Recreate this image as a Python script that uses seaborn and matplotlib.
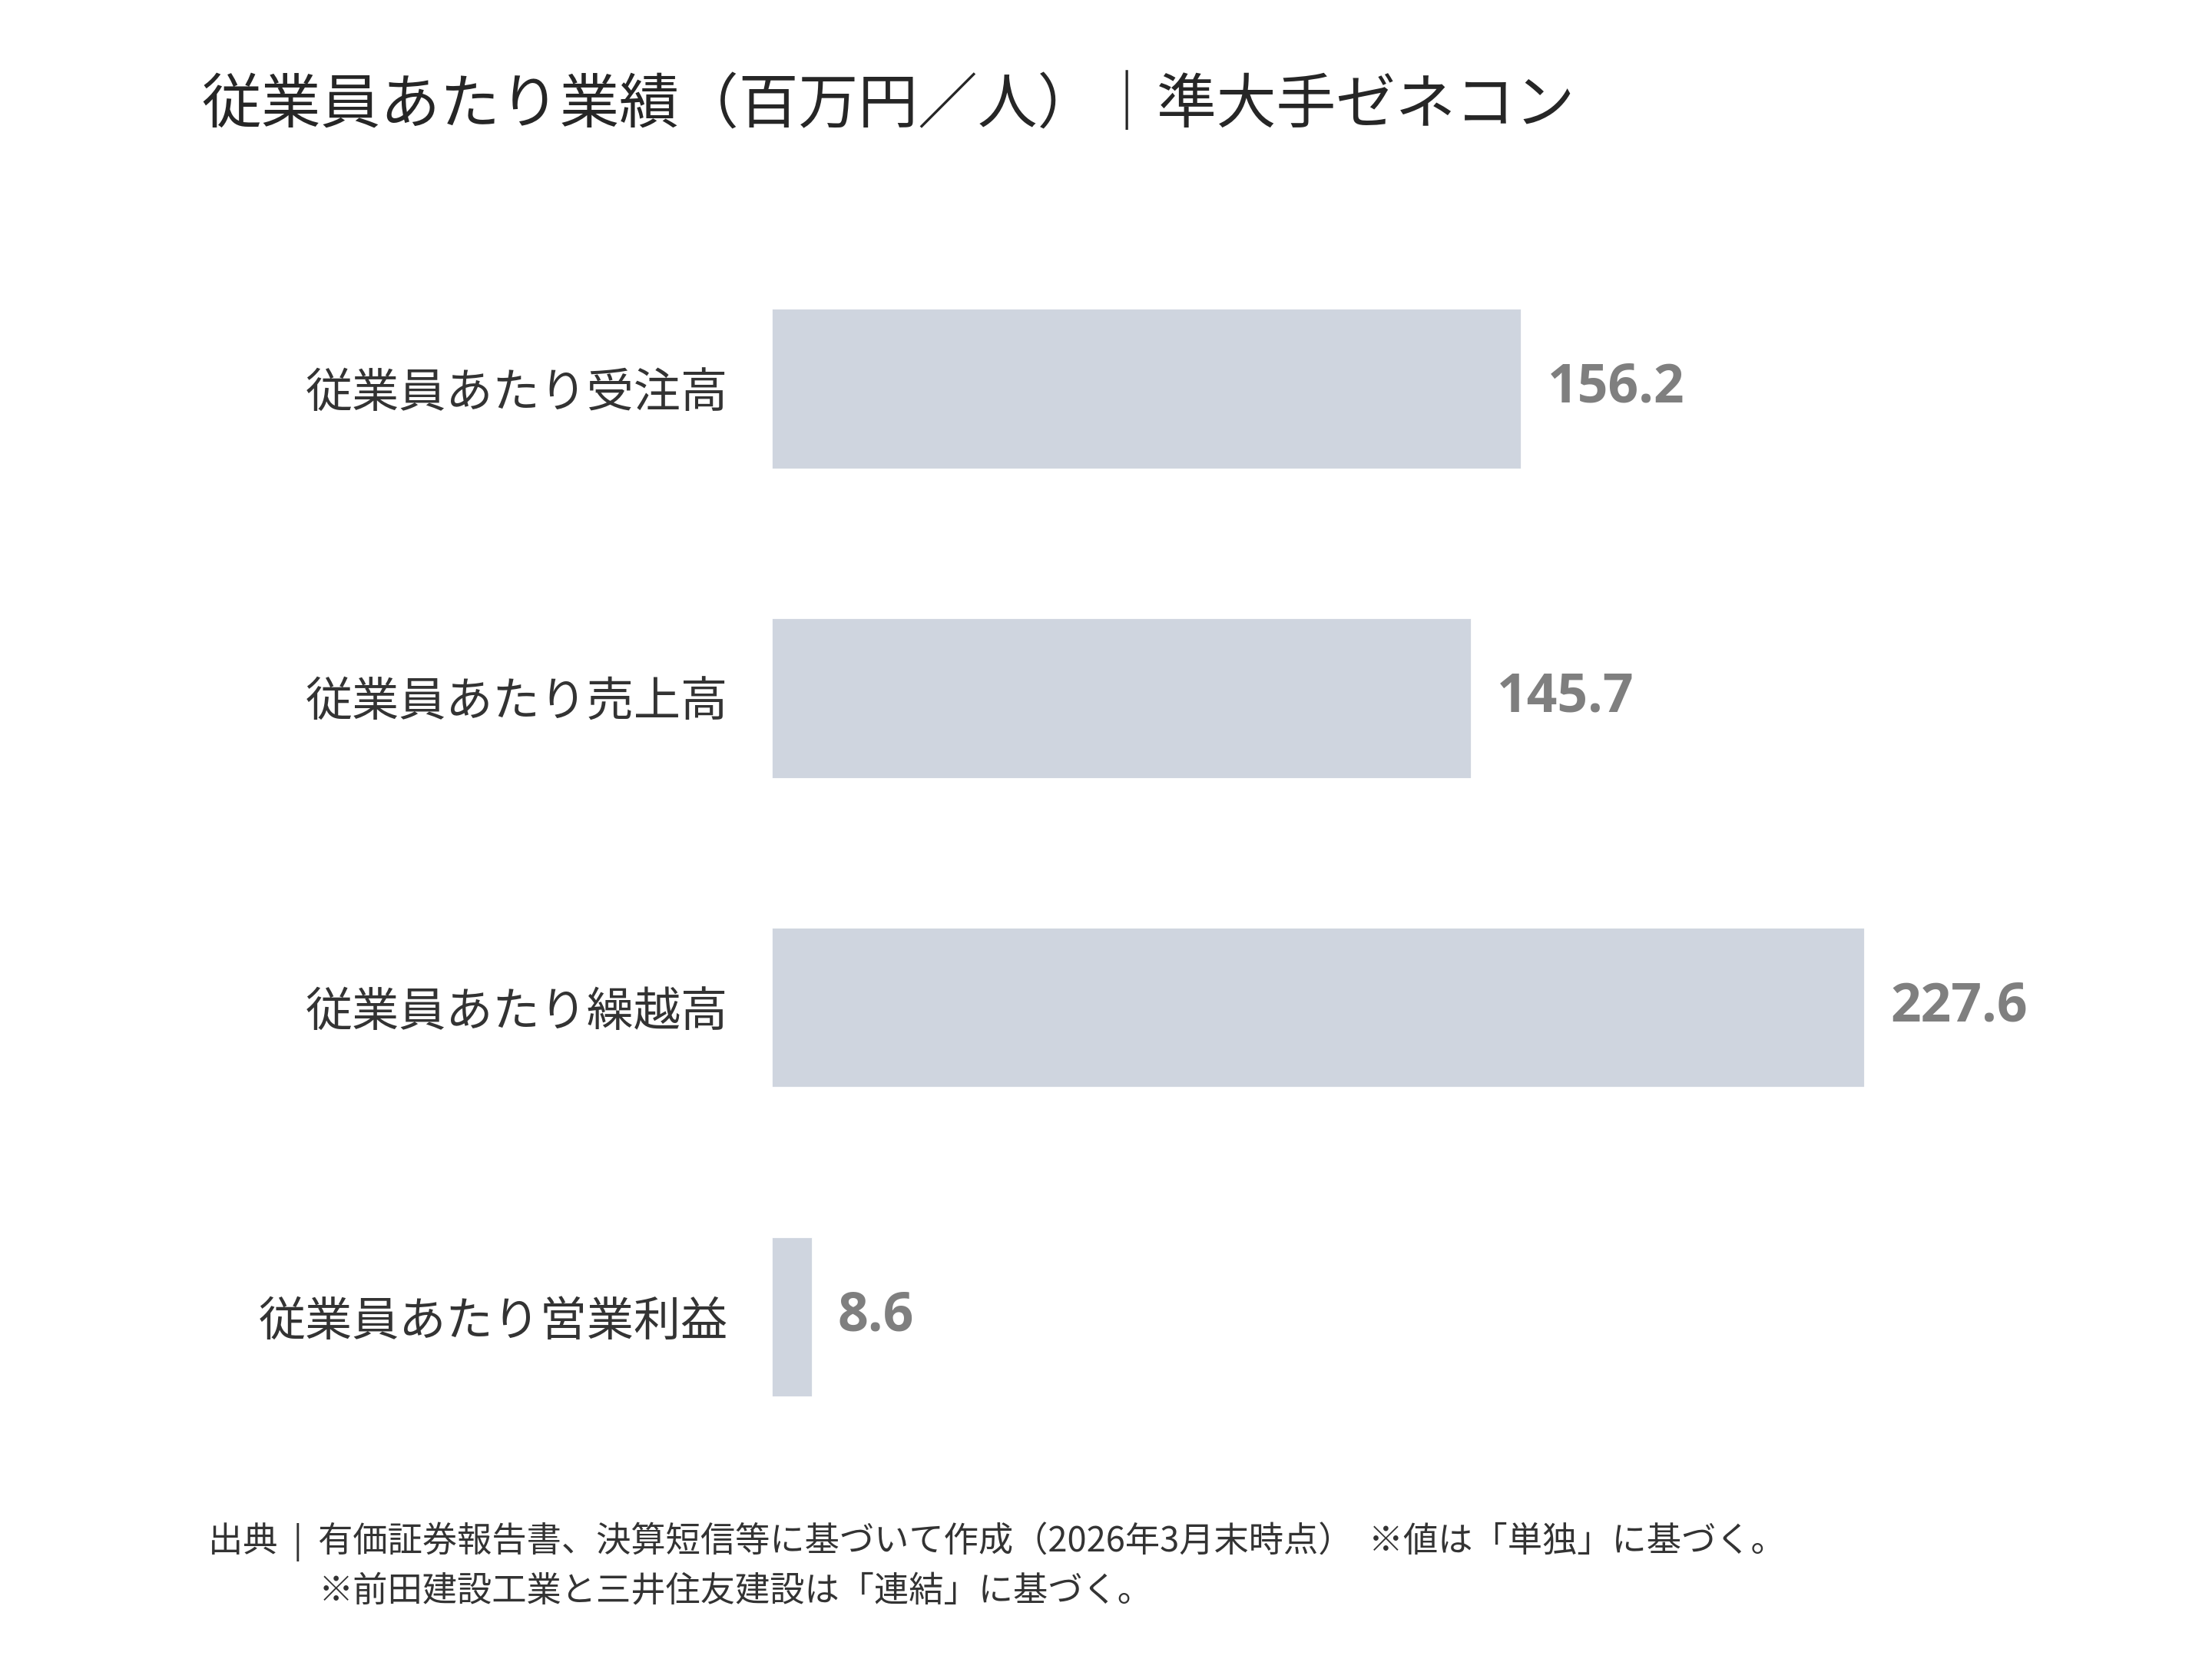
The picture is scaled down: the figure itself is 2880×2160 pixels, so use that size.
import matplotlib
matplotlib.use("Agg")
import matplotlib.pyplot as plt
import seaborn as sns
import pandas as pd

# data
categories = ["従業員あたり受注高", "従業員あたり売上高", "従業員あたり繰越高", "従業員あたり営業利益"]
values = [156.2, 145.7, 227.6, 8.6]

title = "従業員あたり業績（百万円／人）｜準大手ゼネコン"
note_1 = "出典  |  有価証券報告書、決算短信等に基づいて作成（2026年3月末時点）  ※値は「単独」に基づく。"
note_2 = "※前田建設工業と三井住友建設は「連結」に基づく。"

sns.set_theme(style="white")
plt.rcParams["font.family"] = ["Noto Sans CJK JP", "DejaVu Sans"]

df = pd.DataFrame({"item": categories, "value": values})

fig = plt.figure(figsize=(14.4, 10.8), dpi=200)
ax = fig.add_axes([0.3485, 0.113, 0.565, 0.746])

sns.barplot(data=df, x="value", y="item", color="#cfd5df", saturation=1,
            width=0.52, ax=ax)

# value labels next to each bar
ax.bar_label(ax.containers[0], fmt="%.1f", padding=12,
             fontsize=25, fontweight="bold", color="#7f7f7f",
             fontfamily=["Open Sans", "DejaVu Sans"])

ax.set_xlim(0, 260)
ax.set_ylim(3.5, -0.5)
ax.set_xlabel("")
ax.set_ylabel("")
ax.set_xticks([])
ax.tick_params(axis="y", length=0, pad=20, labelsize=22, labelcolor="#333333")
sns.despine(ax=ax, left=True, bottom=True)

fig.text(0.091, 0.936, title, fontsize=28, color="#262626", va="center", ha="left")
fig.text(0.094, 0.071, note_1, fontsize=16.3, color="#333333", va="center", ha="left")
fig.text(0.144, 0.041, note_2, fontsize=16.3, color="#333333", va="center", ha="left")

fig.savefig("out.png", dpi=200, facecolor="white")
plt.close(fig)
